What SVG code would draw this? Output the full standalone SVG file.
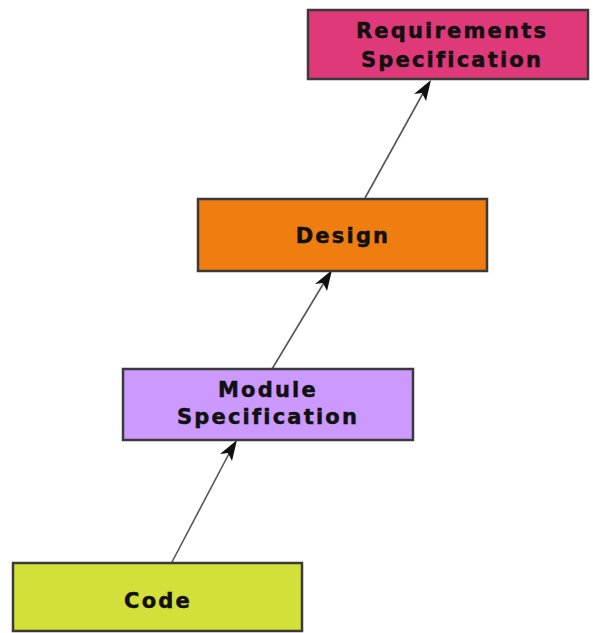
<svg xmlns="http://www.w3.org/2000/svg" width="593" height="633" viewBox="0 0 593 633">
<style>
.box{stroke:#3a3a3a;stroke-width:2.5}
.lbl{font-family:"DejaVu Sans",sans-serif;font-weight:bold;font-size:21px;letter-spacing:2.2px;fill:#111;stroke:#111;stroke-width:0.5;text-anchor:middle}
.conn{stroke:#555;stroke-width:1.6;fill:none}
.head{fill:#111}
</style>
<rect width="593" height="633" fill="#fff"/>
<g id="connectors">
<line class="conn" x1="172" y1="562" x2="233" y2="446"/>
<path class="head" d="M237,440 L232,461 L228,453 L220,454 Z"/>
<line class="conn" x1="272" y1="369" x2="328" y2="276"/>
<path class="head" d="M332,270 L327,291 L323,283 L315,284 Z"/>
<line class="conn" x1="365" y1="198" x2="427" y2="86"/>
<path class="head" d="M431,80 L426,101 L422,93 L414,94 Z"/>
</g>
<g id="req">
<rect class="box" x="308" y="10" width="280" height="69" fill="#e0397a"/>
<text class="lbl" x="452" y="38">Requirements</text>
<text class="lbl" x="452" y="67">Specification</text>
</g>
<g id="design">
<rect class="box" x="198" y="199" width="289" height="72" fill="#f07d10"/>
<text class="lbl" x="343" y="243">Design</text>
</g>
<g id="module">
<rect class="box" x="123" y="369" width="290" height="71" fill="#cc99ff"/>
<text class="lbl" x="268" y="397">Module</text>
<text class="lbl" x="268" y="424">Specification</text>
</g>
<g id="code">
<rect class="box" x="13" y="563" width="289" height="68" fill="#d4e03a"/>
<text class="lbl" x="158" y="608">Code</text>
</g>
</svg>
